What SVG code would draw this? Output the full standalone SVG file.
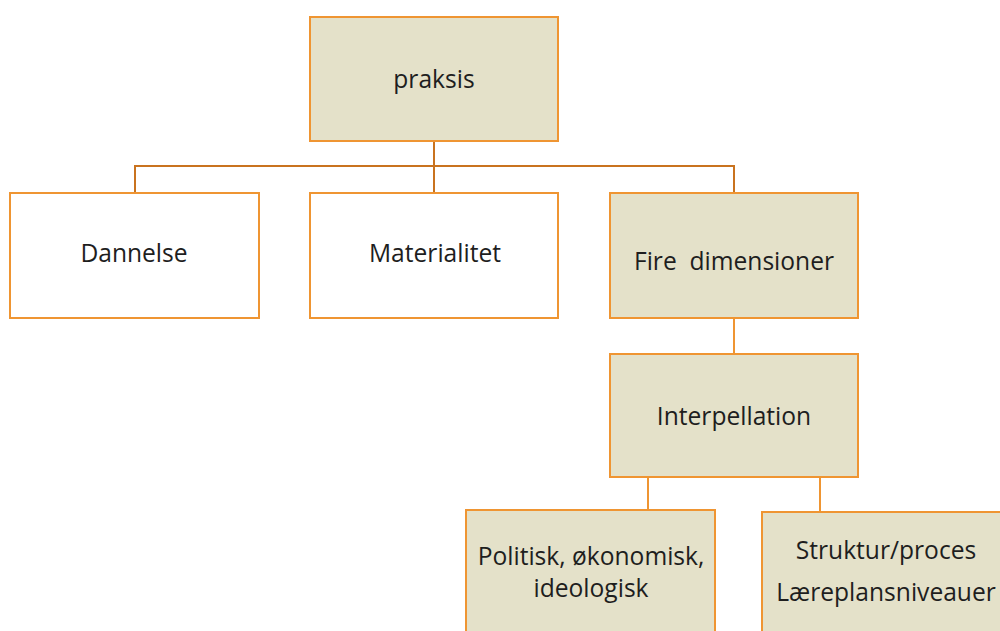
<svg xmlns="http://www.w3.org/2000/svg" width="1000" height="631" viewBox="0 0 1000 631">
  <style>
    .box { stroke: #ef9532; stroke-width: 2; }
    .filled { fill: #e4e1c9; }
    .plain { fill: #ffffff; }
    .label { font-family: "Open Sans", "Liberation Sans", sans-serif; font-size: 24.6px; fill: #1e1e1e; text-anchor: middle; white-space: pre; }
    .link { fill: none; stroke: #c9731f; stroke-width: 2; }
    .link2 { fill: none; stroke: #ef9532; stroke-width: 2; }
  </style>
  <rect width="1000" height="631" fill="#ffffff"/>

  <g id="connectors">
    <path class="link" d="M434 141 V166 M135 193 V166 H734 V193 M434 166 V193"/>
    <path class="link2" d="M734 318 V354"/>
    <path class="link2" d="M648 477 V510 M820 477 V512"/>
  </g>

  <g id="praksis">
    <rect class="box filled" x="310" y="17" width="248" height="124"/>
    <text class="label" x="434" y="88">praksis</text>
  </g>
  <g id="dannelse">
    <rect class="box plain" x="10" y="193" width="249" height="125"/>
    <text class="label" x="134" y="262">Dannelse</text>
  </g>
  <g id="materialitet">
    <rect class="box plain" x="310" y="193" width="248" height="125"/>
    <text class="label" x="435" y="262">Materialitet</text>
  </g>
  <g id="fire-dimensioner">
    <rect class="box filled" x="610" y="193" width="248" height="125"/>
    <text class="label" x="734" y="270">Fire  dimensioner</text>
  </g>
  <g id="interpellation">
    <rect class="box filled" x="610" y="354" width="248" height="123"/>
    <text class="label" x="734" y="425">Interpellation</text>
  </g>
  <g id="politisk">
    <rect class="box filled" x="466" y="510" width="249" height="135"/>
    <text class="label" x="591" y="565">Politisk, økonomisk,</text>
    <text class="label" x="591" y="597">ideologisk</text>
  </g>
  <g id="struktur">
    <rect class="box filled" x="762" y="512" width="250" height="135"/>
    <text class="label" x="886" y="559">Struktur/proces</text>
    <text class="label" x="886" y="601">Læreplansniveauer</text>
  </g>
</svg>
